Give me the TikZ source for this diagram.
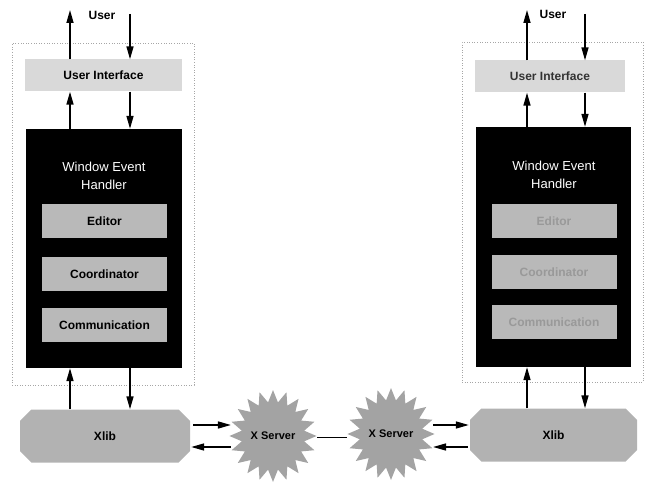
\documentclass[tikz,border=0pt]{standalone}
\usepackage{fontspec}
\setmainfont{Liberation Sans}
\usetikzlibrary{arrows.meta,shapes.symbols,shapes.misc}

\tikzset{
  arr/.style={-{Triangle[length=13pt,width=7pt]},line width=1.5pt},
  outerbox/.style={draw=gray!70,dotted,line width=0.6pt},
  uibox/.style={fill=gray!30,minimum height=32pt,font=\bfseries\fontsize{12}{14}\selectfont},
  wehbox/.style={fill=black,minimum width=156pt,minimum height=239pt},
  partbox/.style={fill=gray!55,minimum width=125pt,minimum height=34pt,font=\bfseries\fontsize{12}{14}\selectfont},
  xlibbox/.style={chamfered rectangle,chamfered rectangle xsep=5pt,chamfered rectangle ysep=7pt,
    fill=gray!60,minimum height=53pt,inner sep=0pt,font=\bfseries\fontsize{12}{14}\selectfont},
  xserver/.style={starburst,starburst points=20,starburst point height=12pt,random starburst=0,
    fill=gray!72,minimum width=70pt,minimum height=92pt,inner sep=0pt,font=\bfseries\fontsize{11}{13}\selectfont},
  usertxt/.style={font=\bfseries\fontsize{12}{14}\selectfont}
}

\begin{document}
\begin{tikzpicture}[x=1pt,y=-1pt]
\useasboundingbox (0,0) rectangle (649,484);
\node[outerbox,minimum width=182pt,minimum height=342pt] (outL) at (103,214) {};
\node[outerbox,minimum width=181pt,minimum height=340pt] (outR) at (552.5,212) {};
\node[uibox,minimum width=157pt] (uiL) at (103.5,75.5) {User Interface};
\node[uibox,minimum width=150pt] (uiR) at (550,76.5) {\textcolor{black!80}{User Interface}};
\node[wehbox] (wehL) at (104,248.5) {};
\node[wehbox,minimum width=155pt,minimum height=240pt] (wehR) at (553.5,247) {};
\node[text=white,align=center,font=\fontsize{13}{18}\selectfont] (wtL) at (104,176) {Window Event\\Handler};
\node[text=white,align=center,font=\fontsize{13}{18}\selectfont] (wtR) at (554,175) {Window Event\\Handler};
\node[partbox] (edL) at (104.5,221.5) {Editor};
\node[partbox] (coL) at (104.5,274.5) {Coordinator};
\node[partbox] (cmL) at (104.5,325) {Communication};
\node[partbox,text=gray!80] (edR) at (554,221.5) {Editor};
\node[partbox,text=gray!80] (coR) at (554,272.5) {Coordinator};
\node[partbox,text=gray!80] (cmR) at (554,322.5) {Communication};
\node[xlibbox,minimum width=170pt] (xlL) at (105,436) {Xlib};
\node[xlibbox,minimum width=167pt] (xlR) at (553.5,435) {Xlib};
\node[xserver] (xsL) at (273,436) {X Server};
\node[xserver] (xsR) at (391,434) {X Server};
\node[usertxt] (usL) at (102,15) {User};
\node[usertxt] (usR) at (553,14) {User};
\coordinate (upL) at (70,10);
\coordinate (dnL) at (130,14);
\coordinate (upR) at (527,10);
\coordinate (dnR) at (585,14);
\coordinate (hi) at (0,425);
\coordinate (lo) at (0,447);
\draw[arr] (uiL.north -| upL) -- (upL);
\draw[arr] (dnL) -- (uiL.north -| dnL);
\draw[arr] (wehL.north -| upL) -- (uiL.south -| upL);
\draw[arr] (uiL.south -| dnL) -- (wehL.north -| dnL);
\draw[arr] (xlL.north -| upL) -- (wehL.south -| upL);
\draw[arr] (wehL.south -| dnL) -- (xlL.north -| dnL);
\draw[arr] (uiR.north -| upR) -- (upR);
\draw[arr] (dnR) -- (uiR.north -| dnR);
\draw[arr] (wehR.north -| upR) -- (uiR.south -| upR);
\draw[arr] (uiR.south -| dnR) -- (wehR.north -| dnR);
\draw[arr] (xlR.north -| upR) -- (wehR.south -| upR);
\draw[arr] (wehR.south -| dnR) -- (xlR.north -| dnR);
\draw[arr] ([xshift=3pt]xlL.east |- hi) -- ([xshift=2pt]xsL.west |- hi);
\draw[arr] ([xshift=2pt]xsL.west |- lo) -- ([xshift=1pt]xlL.east |- lo);
\draw[arr] ([xshift=-2pt]xsR.east |- hi) -- ([xshift=-1pt]xlR.west |- hi);
\draw[arr] ([xshift=-2pt]xlR.west |- lo) -- ([xshift=-2pt]xsR.east |- lo);
\draw[line width=1pt] (xsL.east |- 0,437) -- (xsR.west |- 0,437);
\end{tikzpicture}
\end{document}
